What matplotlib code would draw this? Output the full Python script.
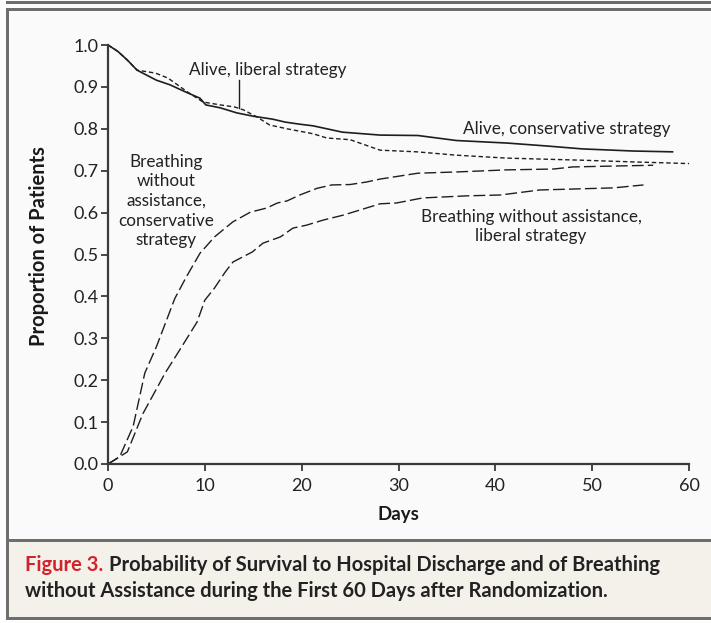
import matplotlib
matplotlib.use("Agg")
import matplotlib.pyplot as plt
from matplotlib.patches import Rectangle
from matplotlib.lines import Line2D

# ---------------- data ----------------
alive_cons_days = [0, 1, 2, 3, 4, 5, 6.4, 8, 9.5, 10.1, 11.6, 13.3, 15, 17, 18.3, 19.8,
                   21.2, 24.2, 28.1, 32, 36, 41.2, 45.3, 49, 54.2, 58.3]
alive_cons_p = [1.0, 0.985, 0.964, 0.94, 0.928, 0.916, 0.905, 0.888, 0.873, 0.857, 0.85,
                0.838, 0.83, 0.823, 0.816, 0.811, 0.807, 0.792, 0.785, 0.784, 0.772,
                0.766, 0.759, 0.752, 0.747, 0.745]

alive_lib_days = [0, 1, 2, 3, 4.9, 6.2, 8.2, 9.8, 11.6, 13.1, 14, 15.4, 16.7, 18.5, 21.2,
                  22.6, 25, 28.1, 31.9, 36, 41.2, 49, 54.2, 60]
alive_lib_p = [1.0, 0.985, 0.964, 0.94, 0.933, 0.921, 0.888, 0.864, 0.857, 0.852, 0.845,
               0.828, 0.809, 0.80, 0.788, 0.778, 0.774, 0.749, 0.745, 0.737, 0.730,
               0.725, 0.721, 0.717]

breath_cons_days = [0, 1.2, 2.6, 3.8, 5, 6.9, 8.1, 9.5, 11, 12.9, 14.7, 16.4, 17.5, 18.5,
                    19.8, 21.6, 23.1, 25, 26.7, 28.1, 32, 36, 41.2, 46, 48, 52, 56.3]
breath_cons_p = [0, 0.017, 0.09, 0.217, 0.28, 0.395, 0.447, 0.503, 0.542, 0.578, 0.601,
                 0.611, 0.623, 0.628, 0.642, 0.658, 0.666, 0.667, 0.673, 0.680, 0.694,
                 0.697, 0.702, 0.704, 0.709, 0.711, 0.713]

breath_lib_days = [0, 2, 3.6, 5.9, 7.4, 9.2, 10, 11, 12.1, 12.9, 14.9, 16, 17.8, 19.1,
                   20.5, 22.2, 24.3, 28.1, 29.8, 32.5, 37.1, 40.5, 44.6, 52.2, 55.3]
breath_lib_p = [0, 0.029, 0.12, 0.217, 0.272, 0.339, 0.391, 0.42, 0.458, 0.482, 0.506,
                0.527, 0.542, 0.563, 0.57, 0.582, 0.594, 0.621, 0.623, 0.635, 0.64,
                0.642, 0.654, 0.659, 0.666]

x_ticks = [0, 10, 20, 30, 40, 50, 60]
y_ticks = [0.0, 0.1, 0.2, 0.3, 0.4, 0.5, 0.6, 0.7, 0.8, 0.9, 1.0]
y_tick_labels = ["0.0", "0.1", "0.2", "0.3", "0.4", "0.5", "0.6", "0.7", "0.8", "0.9", "1.0"]

# ---------------- figure ----------------
W, H = 711, 623
fig = plt.figure(figsize=(W / 100, H / 100), dpi=100)
fig.patch.set_facecolor("#fdfdfd")

def rect(x0, y0, x1, y1, color, z=0):
    fig.add_artist(Rectangle((x0 / W, 1 - y1 / H), (x1 - x0) / W, (y1 - y0) / H,
                             transform=fig.transFigure, facecolor=color,
                             edgecolor="none", zorder=z))

frame_col = "#6e6e6e"
rect(6, 0.5, W, 3.5, frame_col)            # top rule
rect(6, 8, W, 541, "#fafafa")              # plot panel
rect(6, 541, W, 619, "#f4f1eb")            # caption panel
rect(6, 8, W, 11, frame_col)               # box top
rect(6, 8, 9, 620, frame_col)              # box left
rect(6, 539, W, 542, frame_col)            # separator
rect(6, 617, W, 620, frame_col)            # box bottom

ax = fig.add_axes([108 / W, 1 - 464 / H, 581 / W, 419 / H])
ax.set_facecolor("none")
ax.set_xlim(0, 60)
ax.set_ylim(0, 1.0)

fam = ["Lato", "DejaVu Sans"]
ink = "#1e1e1e"

ax.plot(alive_cons_days, alive_cons_p, color=ink, lw=1.2, clip_on=False)
ax.plot(alive_lib_days, alive_lib_p, color=ink, lw=1.0, dashes=(3.2, 2.0), clip_on=False)
ax.plot(breath_cons_days, breath_cons_p, color=ink, lw=1.0, dashes=(8.5, 3.0), clip_on=False)
ax.plot(breath_lib_days, breath_lib_p, color=ink, lw=1.0, dashes=(8.5, 3.0), clip_on=False)

for s in ["top", "right"]:
    ax.spines[s].set_visible(False)
for s in ["left", "bottom"]:
    ax.spines[s].set_color("#3a3a3a")
    ax.spines[s].set_linewidth(1.6)

ax.set_xticks(x_ticks)
ax.set_xticklabels([str(t) for t in x_ticks])
ax.set_yticks(y_ticks)
ax.set_yticklabels(y_tick_labels)
ax.tick_params(direction="out", length=5, width=1.3, color="#3a3a3a",
               labelsize=13, labelcolor="#222222")
ax.tick_params(axis="x", pad=5)
ax.tick_params(axis="y", pad=2)
for lab in ax.get_xticklabels() + ax.get_yticklabels():
    lab.set_family(fam)

ax.set_xlabel("Days", fontsize=13.5, fontweight="bold", family=fam, color="#1a1a1a", labelpad=9)
ax.set_ylabel("Proportion of Patients", fontsize=14.5, fontweight="bold", family=fam,
              color="#1a1a1a")
ax.yaxis.set_label_coords(-0.102, 0.52)

ann = dict(fontsize=12.3, family=fam, color="#222222")
ax.text(16.5, 0.940, "Alive, liberal strategy", ha="center", va="center", **ann)
ax.add_line(Line2D([13.5, 13.5], [0.916, 0.849], color=ink, lw=1.0))
ax.text(58.1, 0.800, "Alive, conservative strategy", ha="right", va="center", **ann)
ax.text(43.7, 0.566, "Breathing without assistance,\nliberal strategy", ha="center",
        va="center", linespacing=1.25, **ann)
ax.text(6.0, 0.628, "Breathing\nwithout\nassistance,\nconservative\nstrategy", ha="center",
        va="center", linespacing=1.28, **ann)

cap = dict(fontsize=14.5, fontweight="bold", family=fam, va="center", ha="left")
t1 = fig.text(25 / W, 1 - 565 / H, "Figure 3.", color="#d2232a", **cap)
ax.annotate("Probability of Survival to Hospital Discharge and of Breathing",
            xy=(1, 0.5), xycoords=t1, xytext=(4, 0), textcoords="offset points",
            color="#222222", annotation_clip=False, **cap)
fig.text(25 / W, 1 - 591 / H,
         "without Assistance during the First 60 Days after Randomization.",
         color="#222222", **cap)

fig.savefig("out.png", dpi=100, facecolor=fig.get_facecolor())
